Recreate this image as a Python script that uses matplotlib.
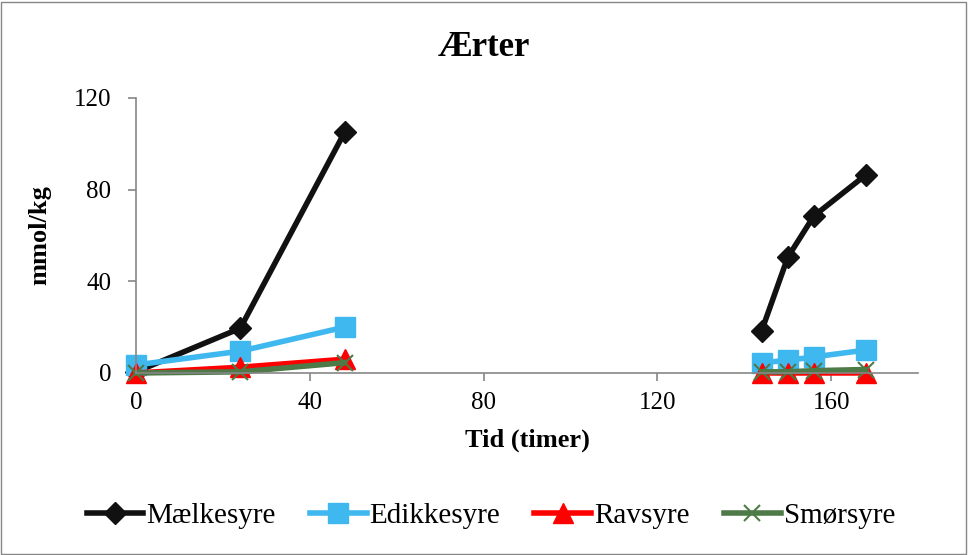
import numpy as np
import matplotlib.pyplot as plt
from matplotlib.patches import Rectangle

plt.rcParams['font.family'] = ['Liberation Serif', 'DejaVu Serif']

timer = [0, 24, 48, np.nan, 144, 150, 156, 168]
maelkesyre = [0.5, 19.5, 105, np.nan, 18.5, 50.5, 68.5, 86.5]
edikkesyre = [3.5, 9.5, 20, np.nan, 4.5, 5.5, 7, 10]
ravsyre = [0, 2.5, 6, np.nan, 0, 0, 0, 0]
smoersyre = [0, 0.5, 4.5, np.nan, 0.5, 0.5, 1, 1.5]

series = [
    ("Mælkesyre", maelkesyre, "#111111", "D", 11),
    ("Edikkesyre", edikkesyre, "#3FB8F0", "s", 14),
    ("Ravsyre", ravsyre, "#FF0000", "^", 14),
    ("Smørsyre", smoersyre, "#4E7A47", "x", 11),
]

fig = plt.figure(figsize=(9.68, 5.55), dpi=100)
ax = fig.add_axes([0.1405, 0.328, 0.808, 0.4955])

for name, vals, col, mk, ms in series:
    ax.plot(timer, vals, color=col, lw=4, marker=mk, markersize=ms,
            markeredgewidth=1.5 if mk == "x" else 1, markeredgecolor=col,
            label=name, clip_on=False)

ax.set_xlim(0, 180)
ax.set_ylim(0, 120)
ax.set_xticks([0, 40, 80, 120, 160])
ax.set_yticks([0, 40, 80, 120])
for s in ("top", "right"):
    ax.spines[s].set_visible(False)
for s in ("left", "bottom"):
    ax.spines[s].set_color("#868686")
    ax.spines[s].set_linewidth(1.2)
ax.tick_params(axis="both", colors="#868686", labelcolor="black",
               labelsize=18, direction="out", length=6, width=1.2)
ax.tick_params(axis="y", pad=12)
ax.tick_params(axis="x", pad=8)

ax.set_xlabel("Tid (timer)", fontsize=19, fontweight="bold", labelpad=10)
ax.set_ylabel("mmol/kg", fontsize=19, fontweight="bold", labelpad=16)
fig.text(0.5, 0.915, "Ærter", ha="center", va="center",
         fontsize=25, fontweight="bold")

fig.legend(loc="center", bbox_to_anchor=(0.507, 0.07), ncol=4, frameon=False,
           fontsize=21, handlelength=1.95, columnspacing=1.17, handletextpad=0.1)

fig.add_artist(Rectangle((0.001, 0.002), 0.997, 0.995, transform=fig.transFigure,
                         fill=False, edgecolor="#868686", lw=1))

fig.savefig("out.png", dpi=100)
